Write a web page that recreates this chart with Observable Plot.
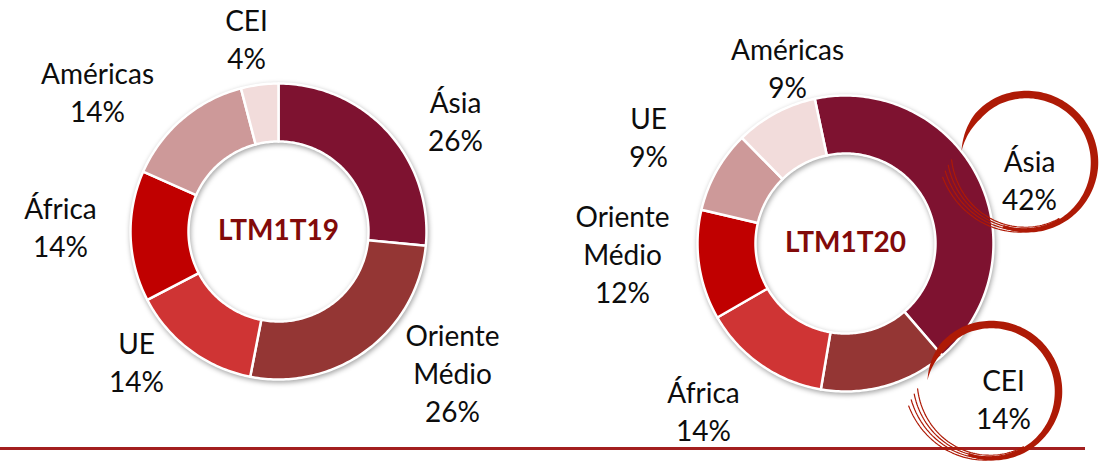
<!DOCTYPE html>
<html><head><meta charset="utf-8">
<script src="https://cdn.jsdelivr.net/npm/d3@7"></script>
<script src="https://cdn.jsdelivr.net/npm/@observablehq/plot@0.6"></script>
<style>
body{margin:0;background:#fff;}
#chart svg{display:block;}
</style></head><body><div id="chart"></div>
<script>
// ---------- data ----------
const periods = ["LTM1T19", "LTM1T20"];
const regions19 = ["Ásia", "Oriente Médio", "UE", "África", "Américas", "CEI"];
const shares19 = [26, 26, 14, 14, 14, 4];
const regions20 = ["Ásia", "CEI", "África", "Oriente Médio", "UE", "Américas"];
const shares20 = [42, 14, 14, 12, 9, 9];
const sliceColors = ["#7E1230", "#943634", "#CF3434", "#C00000", "#CD9999", "#F2DCDB"];
const circled20 = ["Ásia", "CEI"];

// ---------- layout ----------
const W = 1099, H = 461;
const donutCenters = [[278, 231], [845, 243]];
const startAngles = [0, -12]; // degrees, clockwise from 12 o'clock
const rOuter = 148, rInner = 90;
const labelOffsets = [
  {"Ásia": [177, -112], "Oriente Médio": [174, 140], "UE": [-142, 129], "África": [-218, -6], "Américas": [-181, -141], "CEI": [-32, -194]},
  {"Ásia": [184, -65], "CEI": [158, 154], "África": [-142, 166], "Oriente Médio": [-223, 9], "UE": [-197, -108], "Américas": [-58, -177]}
];
const swirlShift = {"Ásia": [-3, -16, 68], "CEI": [-12, -6, 67]};
const baseLine = {y: 448, x1: 0, x2: 1085};

// ---------- build geometry ----------
const charts = [
  {period: periods[0], regions: regions19, shares: shares19},
  {period: periods[1], regions: regions20, shares: shares20}
];
const slicePts = [];
const labels = [];
const centers = [];
charts.forEach((c, ci) => {
  const [cx, cy] = donutCenters[ci];
  const a0 = startAngles[ci] * Math.PI / 180;
  const rows = c.regions.map((r, i) => ({region: r, share: c.shares[i], color: sliceColors[i]}));
  const arcs = d3.pie().sort(null).value(d => d.share).startAngle(a0).endAngle(a0 + 2 * Math.PI)(rows);
  arcs.forEach(a => {
    const key = c.period + "|" + a.data.region;
    const n = Math.max(2, Math.ceil((a.endAngle - a.startAngle) / (Math.PI / 180)));
    const pts = [];
    for (let k = 0; k <= n; k++) {
      const t = a.startAngle + (a.endAngle - a.startAngle) * k / n;
      pts.push([cx + rOuter * Math.sin(t), cy - rOuter * Math.cos(t)]);
    }
    for (let k = n; k >= 0; k--) {
      const t = a.startAngle + (a.endAngle - a.startAngle) * k / n;
      pts.push([cx + rInner * Math.sin(t), cy - rInner * Math.cos(t)]);
    }
    pts.push(pts[0]);
    pts.forEach(p => slicePts.push({key, color: a.data.color, x: p[0], y: p[1]}));
    const off = labelOffsets[ci][a.data.region];
    labels.push({x: cx + off[0], y: cy + off[1], text: a.data.region.replace(" ", "\n") + "\n" + a.data.share + "%", region: a.data.region, chart: ci});
  });
  centers.push({x: cx, y: cy, text: c.period});
});

// decorative brush circles around highlighted labels
const swirlFill = [];
const swirlStrands = [];
labels.filter(l => l.chart === 1 && circled20.includes(l.region)).forEach(l => {
  const [dx, dy, r] = swirlShift[l.region];
  const cx = l.x + dx, cy = l.y + dy;
  const deg = Math.PI / 180;
  const th0 = -80 * deg, th1 = 200 * deg;
  const outer = [], inner = [];
  const N = 140;
  for (let k = 0; k <= N; k++) {
    const t = k / N;
    const th = th0 + (th1 - th0) * t;
    const w = 7.5 * Math.min(1, t / 0.12) * (1 - 0.6 * Math.max(0, (t - 0.62) / 0.38));
    const rr = r * (0.97 + 0.03 * Math.min(1, t / 0.2));
    outer.push([cx + (rr + w / 2) * Math.sin(th), cy - (rr + w / 2) * Math.cos(th)]);
    inner.push([cx + (rr - w / 2) * Math.sin(th), cy - (rr - w / 2) * Math.cos(th)]);
  }
  const poly = outer.concat(inner.reverse());
  poly.push(poly[0]);
  poly.forEach(p => swirlFill.push({key: l.region, x: p[0], y: p[1]}));
  for (let s = 0; s < 4; s++) {
    const a0 = 150 * deg, a1 = (272 - s * 4) * deg;
    for (let k = 0; k <= 60; k++) {
      const t = k / 60;
      const th = a0 + (a1 - a0) * t;
      const rr = r - 2 + (s - 1.5) * 2.6 * (0.3 + t) + 14 * t * t;
      swirlStrands.push({key: l.region + s, x: cx + rr * Math.sin(th), y: cy - rr * Math.cos(th)});
    }
  }
});

const plot = Plot.plot({
  width: W, height: H, margin: 0,
  x: {domain: [0, W], range: [0, W], axis: null},
  y: {domain: [0, H], range: [0, H], axis: null},
  color: {type: "identity"},
  style: {background: "#fff"},
  marks: [
    Plot.line(slicePts, {x: "x", y: "y", z: "key", fill: "color", stroke: "white", strokeWidth: 2.5, strokeLinejoin: "round", curve: "linear"}),
    Plot.ruleY([baseLine.y], {x1: baseLine.x1, x2: baseLine.x2, stroke: "#A31F1F", strokeWidth: 3}),
    Plot.line(swirlFill, {x: "x", y: "y", z: "key", fill: "#AE1A06", stroke: "none", curve: "linear"}),
    Plot.line(swirlStrands, {x: "x", y: "y", z: "key", stroke: "#AE1A06", strokeWidth: 1.2, curve: "linear"}),
    Plot.text(labels, {x: "x", y: "y", text: "text", fontSize: 28, fontFamily: "Lato", lineHeight: 1.36, fill: "#0d0d0d"}),
    Plot.text(centers, {x: "x", y: "y", text: "text", fontSize: 28, fontFamily: "Lato", fontWeight: "bold", fill: "#820A0A"})
  ]
});
const g = plot.querySelector('g[aria-label="line"]');
if (g) g.style.filter = "drop-shadow(1.5px 2.5px 2.5px rgba(0,0,0,0.35))";
document.getElementById("chart").append(plot);
</script></body></html>
